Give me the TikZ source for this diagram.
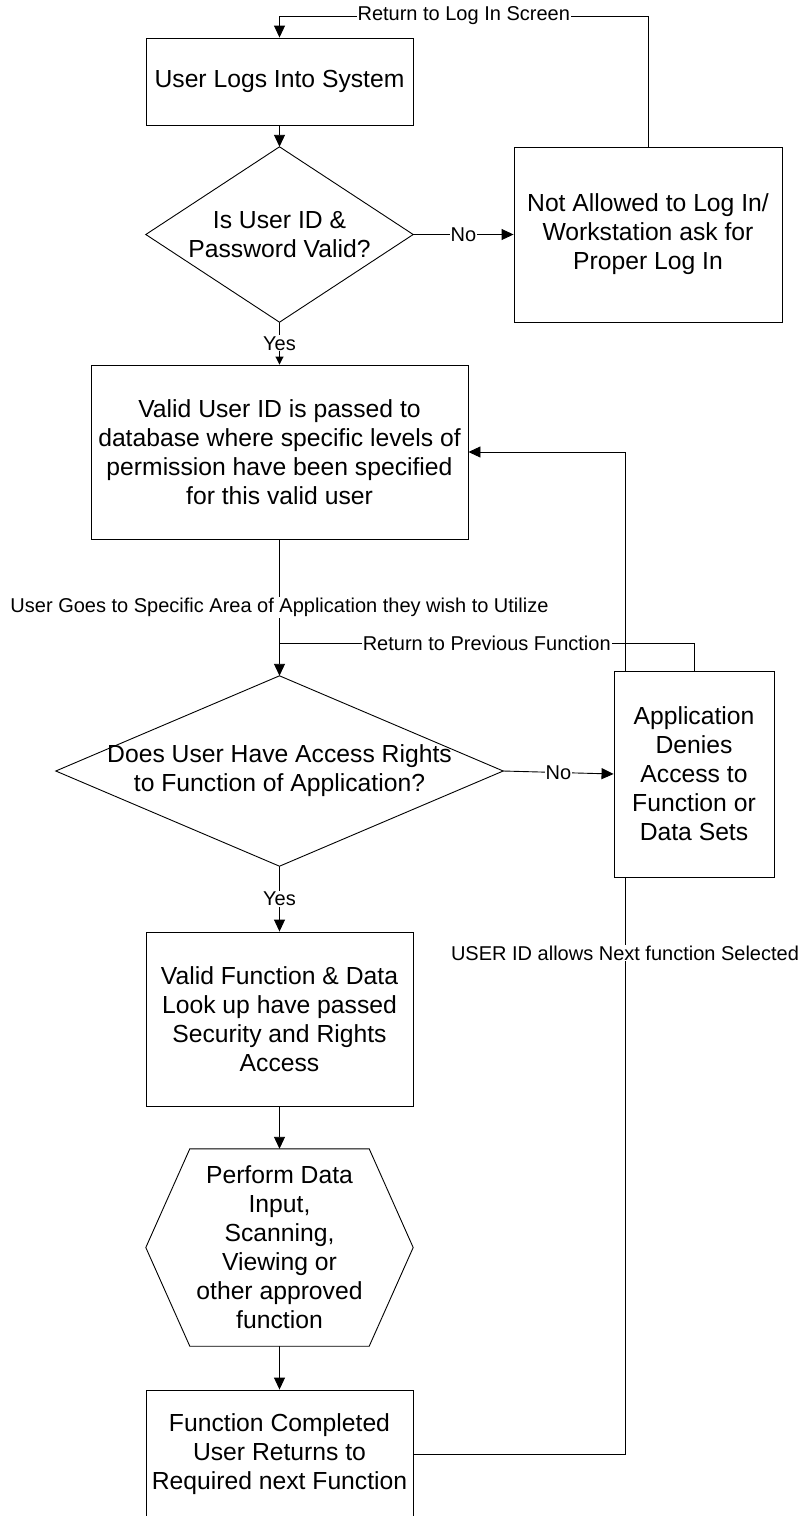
\documentclass[tikz,border=0pt]{standalone}
\usepackage{fontspec}
\setmainfont{Liberation Sans}
\usetikzlibrary{arrows.meta,backgrounds}
\begin{document}
\begin{tikzpicture}[x=1pt,y=-1pt,
  box/.style={draw, fill=white, line width=0.9pt, inner sep=0pt, align=center, font=\fontsize{24.7}{29}\selectfont},
  shapebox/.style={inner sep=0pt, align=center, font=\fontsize{24.7}{29}\selectfont},
  outline/.style={draw, fill=white, line width=0.9pt},
  conn/.style={line width=0.9pt},
  arr/.style={conn, -{Triangle[length=12pt,width=11pt]}},
  arrsmall/.style={conn, -{Triangle[length=8pt,width=8pt]}},
  lbl/.style={fill=white, inner sep=1pt, font=\fontsize{20}{24}\selectfont},
]
\useasboundingbox (0,0) rectangle (801,1516);

% nodes
\node[box, minimum width=267pt, minimum height=87pt] (login) at (279.5,81.5) {User Logs Into System};
\node[shapebox, minimum width=267pt, minimum height=175pt] (valid) at (279.5,234.5) {};
\draw[outline] (valid.north) -- (valid.east) -- (valid.south) -- (valid.west) -- cycle;
\node[shapebox] at (valid.center) {Is User ID \&\\Password Valid?};
\node[box, minimum width=268pt, minimum height=175pt] (denied) at (648,234.5) {Not Allowed to Log In/\\Workstation ask for\\Proper Log In};
\node[box, minimum width=377pt, minimum height=174pt] (perm) at (279.5,452) {Valid User ID is passed to\\database where specific levels of\\permission have been specified\\for this valid user};
\node[shapebox, minimum width=447pt, minimum height=190pt] (rights) at (279.5,771) {};
\draw[outline] (rights.north) -- (rights.east) -- (rights.south) -- (rights.west) -- cycle;
\node[shapebox] at (rights.center) {Does User Have Access Rights\\to Function of Application?};
\node[box, minimum width=160pt, minimum height=206pt] (deny) at (694,774) {Application\\Denies\\Access to\\Function or\\Data Sets};
\node[box, minimum width=267pt, minimum height=174pt] (passed) at (279.5,1019) {Valid Function \& Data\\Look up have passed\\Security and Rights\\Access};
\node[shapebox, minimum width=267pt, minimum height=197pt] (perform) at (279.5,1247.5) {};
\draw[outline] (perform.west) -- ([xshift=44pt]perform.north west) -- ([xshift=-44pt]perform.north east) -- (perform.east) -- ([xshift=-44pt]perform.south east) -- ([xshift=44pt]perform.south west) -- cycle;
\node[shapebox] at (perform.center) {Perform Data\\Input,\\Scanning,\\Viewing or\\other approved\\function};
\node[box, minimum width=267pt, minimum height=128pt] (done) at (279.5,1454) {Function Completed\\User Returns to\\Required next Function};

% connectors
\begin{pgfonlayer}{background}
\coordinate (rt) at (648,16);
\coordinate (lt) at (279.5,16);
\draw[arr] (denied.north) -- (rt) -- node[lbl]{Return to Log In Screen} (lt) -- (login.north);
\draw[arr] (login.south) -- (valid.north);
\draw[arr] (valid.east) -- node[lbl]{No} (denied.west);
\draw[arrsmall] (valid.south) -- node[lbl]{Yes} (perm.north);
\draw[arr] (perm.south) -- node[lbl]{User Goes to Specific Area of Application they wish to Utilize} (rights.north);
\coordinate (rp) at (279.5,643);
\draw[conn] (deny.north) -- (deny.north |- rp) -- node[lbl]{Return to Previous Function} (rp);
\draw[arr] (rights.east) -- node[lbl]{No} (deny.west);
\draw[arr] (rights.south) -- node[lbl]{Yes} (passed.north);
\draw[arr] (passed.south) -- (perform.north);
\draw[arr] (perform.south) -- (done.north);
\coordinate (lp1) at (625,1454);
\coordinate (lp2) at (625,452);
\draw[arr] (done.east) -- (lp1) -- node[lbl]{USER ID allows Next function Selected} (lp2) -- (perm.east);
\end{pgfonlayer}
\end{tikzpicture}
\end{document}
